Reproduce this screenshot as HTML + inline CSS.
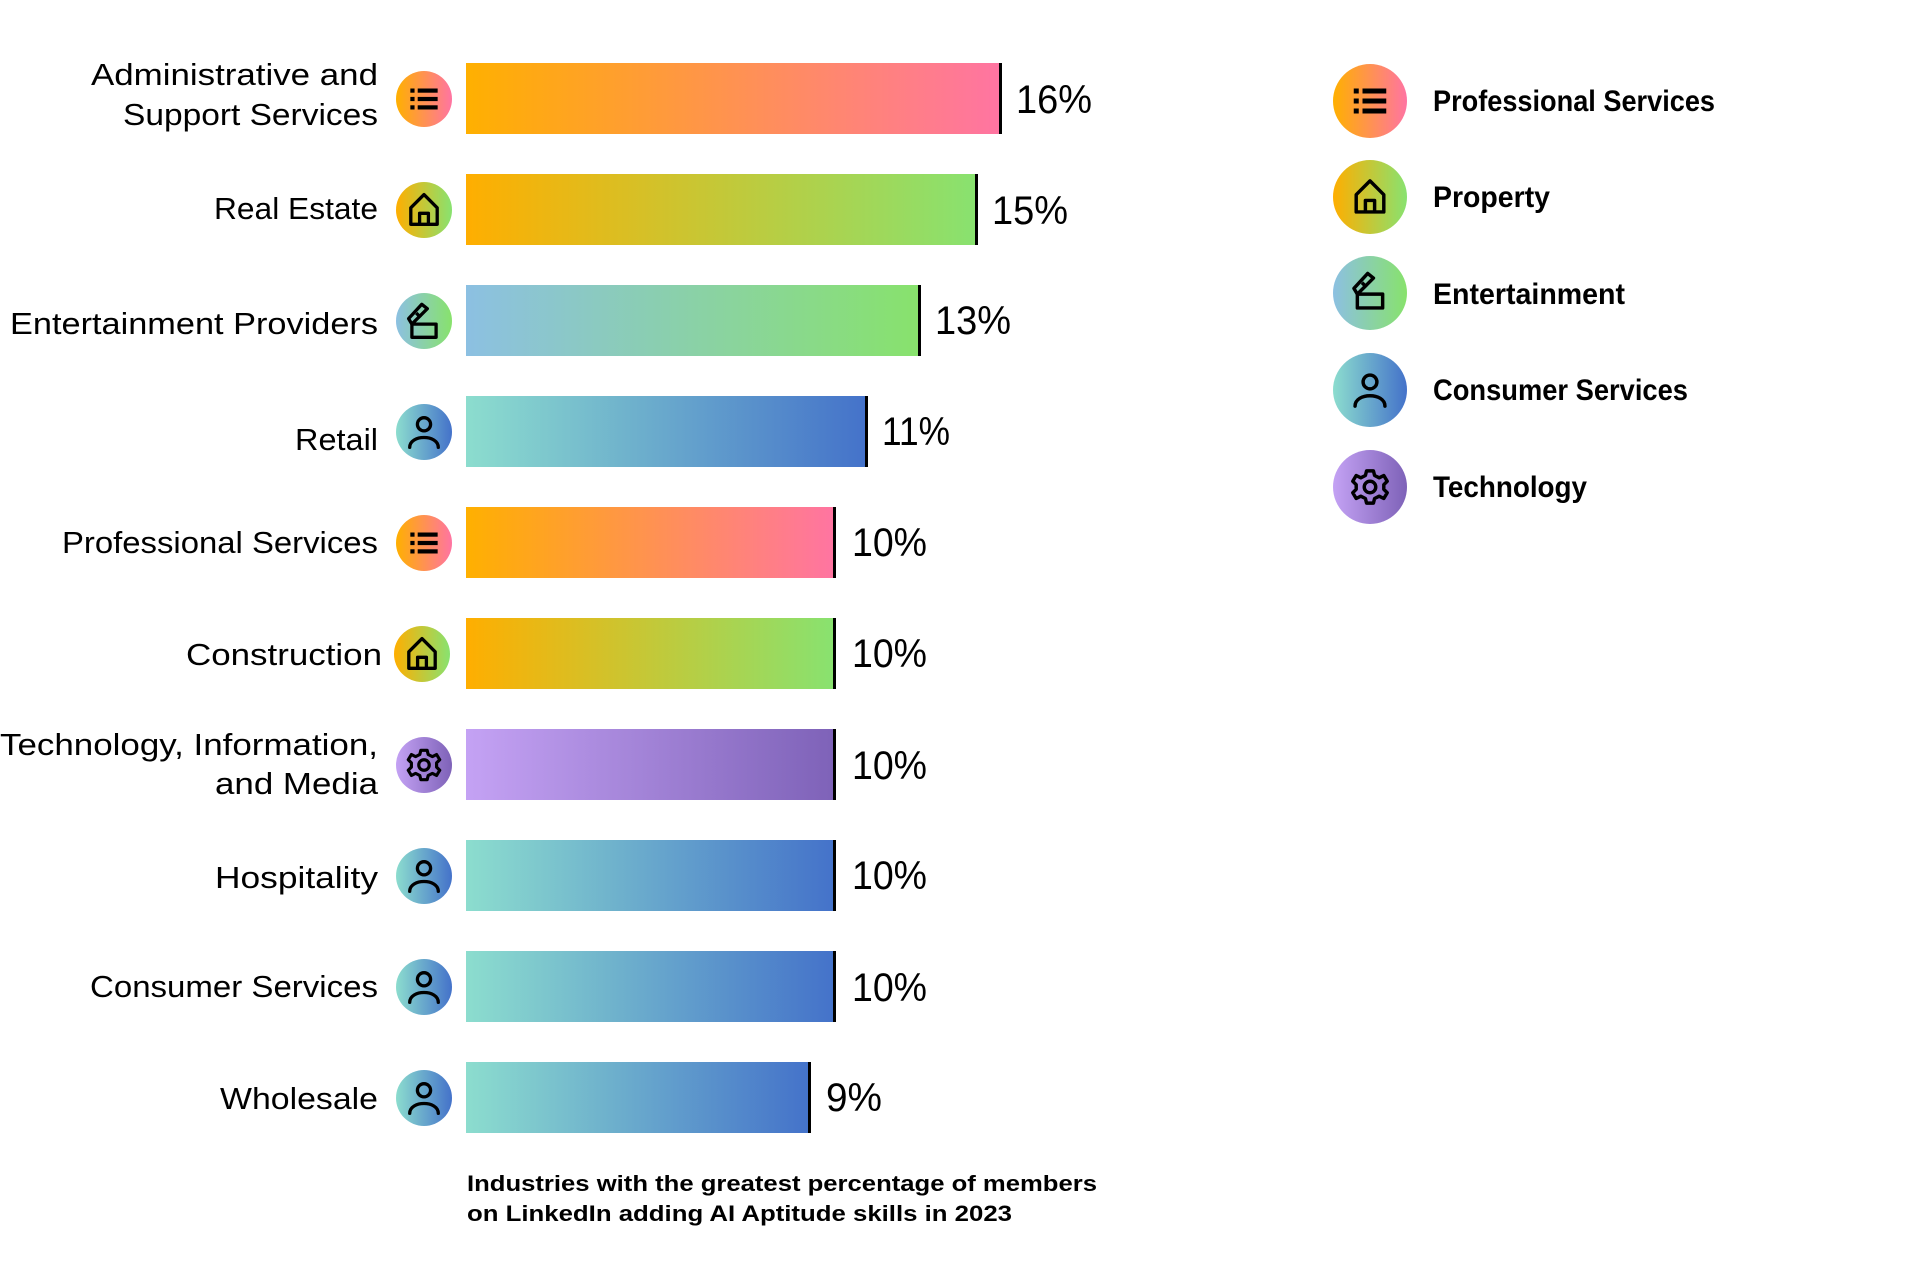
<!DOCTYPE html>
<html><head><meta charset="utf-8"><style>
html,body{margin:0;padding:0;background:#fff;}
svg{display:block;}
text{font-family:"Liberation Sans",sans-serif;fill:#000;}
.lbl{font-size:31px;}
.pct{font-size:40px;}
.leg{font-size:30px;font-weight:bold;}
.cap{font-size:22px;font-weight:bold;}
</style></head><body>
<svg width="1920" height="1280" viewBox="0 0 1920 1280" xmlns="http://www.w3.org/2000/svg">
<defs>
<linearGradient id="gP" x1="0" x2="1" y1="0" y2="0"><stop offset="0" stop-color="#FFB000"/><stop offset="1" stop-color="#FF74A2"/></linearGradient>
<linearGradient id="gR" x1="0" x2="1" y1="0" y2="0"><stop offset="0" stop-color="#FFAE00"/><stop offset="1" stop-color="#88E270"/></linearGradient>
<linearGradient id="gE" x1="0" x2="1" y1="0" y2="0"><stop offset="0" stop-color="#8CC0E2"/><stop offset="1" stop-color="#88E26C"/></linearGradient>
<linearGradient id="gC" x1="0" x2="1" y1="0" y2="0"><stop offset="0" stop-color="#8CDDCE"/><stop offset="1" stop-color="#4472CA"/></linearGradient>
<linearGradient id="gT" x1="0" x2="1" y1="0" y2="0"><stop offset="0" stop-color="#C4A2F4"/><stop offset="1" stop-color="#7E62B8"/></linearGradient>
<g id="iP"><rect x="-13" y="-10" width="4" height="4"/><rect x="-13" y="-2" width="4" height="4"/><rect x="-13" y="6" width="4" height="4"/><rect x="-6" y="-10" width="19" height="4"/><rect x="-6" y="-2" width="19" height="4"/><rect x="-6" y="6" width="19" height="4"/></g>
<g id="iR" fill="none" stroke="#000" stroke-width="3" stroke-linejoin="round"><path d="M-12,13 V-2 L0,-14 L12,-2 V13 Z"/><path d="M-4,13 V3 H4 V13"/></g>
<g id="iE" fill="none" stroke="#000" stroke-width="3" stroke-linejoin="round"><path d="M-11,1 H11 V13 H-11 Z"/><path d="M-11,1 L-14,-4 L-2,-17 L3,-13 Z"/><path d="M-7,-9 L-3,-5"/></g>
<g id="iC" fill="none" stroke="#000" stroke-width="3" stroke-linecap="round"><circle cx="0" cy="-7" r="6"/><path d="M-13,14 C-13,2 13,2 13,14"/></g>
<g id="iT" fill="none" stroke="#000" stroke-width="3" stroke-linejoin="round"><path d="M-3,-14 H3 L4,-10 L8,-8 L12,-10 L15,-5 L12,-2 V2 L15,5 L12,10 L8,8 L4,10 L3,14 H-3 L-4,10 L-8,8 L-12,10 L-15,5 L-12,2 V-2 L-15,-5 L-12,-10 L-8,-8 L-4,-10 Z"/><circle cx="0" cy="0" r="5"/></g>
</defs>

<!-- Bars -->
<g>
<rect x="466" y="63" width="535" height="71" fill="url(#gP)"/><rect x="999" y="63" width="3" height="71"/>
<rect x="466" y="174" width="511" height="71" fill="url(#gR)"/><rect x="975" y="174" width="3" height="71"/>
<rect x="466" y="285" width="454" height="71" fill="url(#gE)"/><rect x="918" y="285" width="3" height="71"/>
<rect x="466" y="396" width="401" height="71" fill="url(#gC)"/><rect x="865" y="396" width="3" height="71"/>
<rect x="466" y="507" width="369" height="71" fill="url(#gP)"/><rect x="833" y="507" width="3" height="71"/>
<rect x="466" y="618" width="369" height="71" fill="url(#gR)"/><rect x="833" y="618" width="3" height="71"/>
<rect x="466" y="729" width="369" height="71" fill="url(#gT)"/><rect x="833" y="729" width="3" height="71"/>
<rect x="466" y="840" width="369" height="71" fill="url(#gC)"/><rect x="833" y="840" width="3" height="71"/>
<rect x="466" y="951" width="369" height="71" fill="url(#gC)"/><rect x="833" y="951" width="3" height="71"/>
<rect x="466" y="1062" width="344" height="71" fill="url(#gC)"/><rect x="808" y="1062" width="3" height="71"/>
</g>

<!-- Percent labels -->
<g>
<text class="pct" x="1016" y="113" textLength="76" lengthAdjust="spacingAndGlyphs">16%</text>
<text class="pct" x="992" y="224" textLength="76" lengthAdjust="spacingAndGlyphs">15%</text>
<text class="pct" x="935" y="334" textLength="76" lengthAdjust="spacingAndGlyphs">13%</text>
<text class="pct" x="882" y="445" textLength="68" lengthAdjust="spacingAndGlyphs">11%</text>
<text class="pct" x="852" y="556" textLength="75" lengthAdjust="spacingAndGlyphs">10%</text>
<text class="pct" x="852" y="667" textLength="75" lengthAdjust="spacingAndGlyphs">10%</text>
<text class="pct" x="852" y="779" textLength="75" lengthAdjust="spacingAndGlyphs">10%</text>
<text class="pct" x="852" y="889" textLength="75" lengthAdjust="spacingAndGlyphs">10%</text>
<text class="pct" x="852" y="1001" textLength="75" lengthAdjust="spacingAndGlyphs">10%</text>
<text class="pct" x="826" y="1111" textLength="56" lengthAdjust="spacingAndGlyphs">9%</text>
</g>

<!-- Icons -->
<circle cx="424" cy="99" r="28" fill="url(#gP)"/><use href="#iP" transform="translate(424,99) scale(1.05)"/>
<circle cx="424" cy="210" r="28" fill="url(#gR)"/><use href="#iR" transform="translate(424,210) scale(1.1)"/>
<circle cx="424" cy="321" r="28" fill="url(#gE)"/><use href="#iE" transform="translate(424,323) scale(1.1)"/>
<circle cx="424" cy="432" r="28" fill="url(#gC)"/><use href="#iC" transform="translate(424,432) scale(1.1)"/>
<circle cx="424" cy="543" r="28" fill="url(#gP)"/><use href="#iP" transform="translate(424,543) scale(1.05)"/>
<circle cx="422" cy="654" r="28" fill="url(#gR)"/><use href="#iR" transform="translate(422,654) scale(1.1)"/>
<circle cx="424" cy="765" r="28" fill="url(#gT)"/><use href="#iT" transform="translate(424,765) scale(1.05)"/>
<circle cx="424" cy="876" r="28" fill="url(#gC)"/><use href="#iC" transform="translate(424,876) scale(1.1)"/>
<circle cx="424" cy="987" r="28" fill="url(#gC)"/><use href="#iC" transform="translate(424,987) scale(1.1)"/>
<circle cx="424" cy="1098" r="28" fill="url(#gC)"/><use href="#iC" transform="translate(424,1098) scale(1.1)"/>

<!-- Category labels -->
<g text-anchor="end">
<text class="lbl" x="378" y="85" textLength="287" lengthAdjust="spacingAndGlyphs">Administrative and</text>
<text class="lbl" x="378" y="125" textLength="255" lengthAdjust="spacingAndGlyphs">Support Services</text>
<text class="lbl" x="378" y="219" textLength="164" lengthAdjust="spacingAndGlyphs">Real Estate</text>
<text class="lbl" x="378" y="334" textLength="368" lengthAdjust="spacingAndGlyphs">Entertainment Providers</text>
<text class="lbl" x="378" y="450" textLength="83" lengthAdjust="spacingAndGlyphs">Retail</text>
<text class="lbl" x="378" y="553" textLength="316" lengthAdjust="spacingAndGlyphs">Professional Services</text>
<text class="lbl" x="382" y="665" textLength="196" lengthAdjust="spacingAndGlyphs">Construction</text>
<text class="lbl" x="378" y="755" textLength="378" lengthAdjust="spacingAndGlyphs">Technology, Information,</text>
<text class="lbl" x="378" y="794" textLength="163" lengthAdjust="spacingAndGlyphs">and Media</text>
<text class="lbl" x="378" y="888" textLength="163" lengthAdjust="spacingAndGlyphs">Hospitality</text>
<text class="lbl" x="378" y="997" textLength="288" lengthAdjust="spacingAndGlyphs">Consumer Services</text>
<text class="lbl" x="378" y="1109" textLength="158" lengthAdjust="spacingAndGlyphs">Wholesale</text>
</g>

<!-- Legend -->
<circle cx="1370" cy="101" r="37" fill="url(#gP)"/><use href="#iP" transform="translate(1370,101) scale(1.25)"/>
<circle cx="1370" cy="197" r="37" fill="url(#gR)"/><use href="#iR" transform="translate(1370,197) scale(1.15)"/>
<circle cx="1370" cy="293" r="37" fill="url(#gE)"/><use href="#iE" transform="translate(1370,293) scale(1.15)"/>
<circle cx="1370" cy="390" r="37" fill="url(#gC)"/><use href="#iC" transform="translate(1370,390) scale(1.15)"/>
<circle cx="1370" cy="487" r="37" fill="url(#gT)"/><use href="#iT" transform="translate(1370,487) scale(1.15)"/>
<text class="leg" x="1433" y="111" textLength="282" lengthAdjust="spacingAndGlyphs">Professional Services</text>
<text class="leg" x="1433" y="207" textLength="117" lengthAdjust="spacingAndGlyphs">Property</text>
<text class="leg" x="1433" y="304" textLength="192" lengthAdjust="spacingAndGlyphs">Entertainment</text>
<text class="leg" x="1433" y="400" textLength="255" lengthAdjust="spacingAndGlyphs">Consumer Services</text>
<text class="leg" x="1433" y="497" textLength="154" lengthAdjust="spacingAndGlyphs">Technology</text>

<!-- Caption -->
<text class="cap" x="467" y="1191" textLength="630" lengthAdjust="spacingAndGlyphs">Industries with the greatest percentage of members</text>
<text class="cap" x="467" y="1221" textLength="545" lengthAdjust="spacingAndGlyphs">on LinkedIn adding AI Aptitude skills in 2023</text>
</svg>
</body></html>
